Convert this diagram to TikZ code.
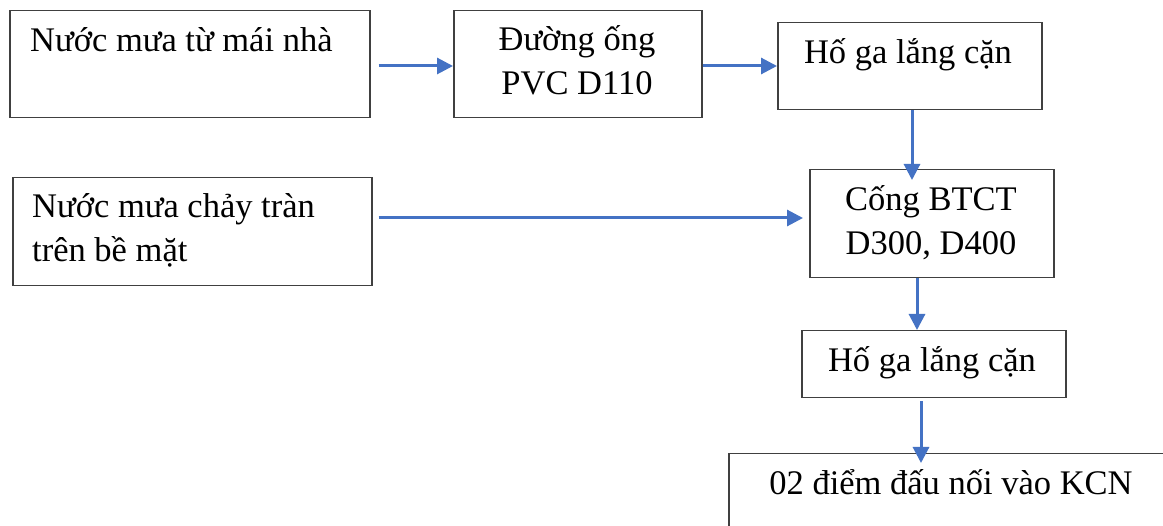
\documentclass[tikz,border=0pt]{standalone}
\usepackage{fontspec}
\setmainfont{Liberation Serif}
\usetikzlibrary{arrows.meta}
\definecolor{arrblue}{HTML}{4472C4}
\begin{document}
\begin{tikzpicture}[x=1pt,y=-1pt,
  box/.style={draw=black!75, line width=1.5pt, inner sep=0pt, anchor=north west},
  txt/.style={font=\fontsize{34.5}{44}\selectfont, inner sep=0pt},
  arr/.style={draw=arrblue, line width=3pt, -{Triangle[length=16pt,width=16pt]}}]
\clip (0,0) rectangle (1163,526);
\fill[white] (0,0) rectangle (1163,526);
% boxes
\node[box, minimum width=360pt, minimum height=107pt] (b1) at (9,10) {};
\node[box, minimum width=248pt, minimum height=107pt] (b2) at (453,10) {};
\node[box, minimum width=264pt, minimum height=87pt] (b3) at (777,22) {};
\node[box, minimum width=359pt, minimum height=108pt] (b4) at (12,177) {};
\node[box, minimum width=244pt, minimum height=108pt] (b5) at (809,169) {};
\node[box, minimum width=264pt, minimum height=67pt] (b6) at (801,330) {};
\node[box, minimum width=480pt, minimum height=120pt] (b7) at (728,453) {};
% texts
\node[txt, anchor=base west] (t1) at (30,52) {Nước mưa từ mái nhà};
\node[txt, anchor=base, align=center] (t2) at (577,95) {Đường ống\\PVC D110};
\node[txt, anchor=base] (t3) at (908,64) {Hố ga lắng cặn};
\node[txt, anchor=base west, align=left] (t4) at (32,262) {Nước mưa chảy tràn\\trên bề mặt};
\node[txt, anchor=base, align=center] (t5) at (931,255) {Cống BTCT\\D300, D400};
\node[txt, anchor=base] (t6) at (932,372) {Hố ga lắng cặn};
\node[txt, anchor=base] (t7) at (951,495) {02 điểm đấu nối vào KCN};
% arrows
\draw[arr, shorten <=8pt] (b1.east |- 0,66) -- (b2.west |- 0,66);
\draw[arr] (b2.east |- 0,66) -- (b3.west |- 0,66);
\draw[arr, shorten >=-11pt] (b3.south -| 912,0) -- (b5.north -| 912,0);
\draw[arr, shorten <=6pt, shorten >=6pt] (b4.east |- 0,218) -- (b5.west |- 0,218);
\draw[arr] (b5.south -| 917,0) -- (b6.north -| 917,0);
\draw[arr, shorten <=3pt, shorten >=-10pt] (b6.south -| 921,0) -- (b7.north -| 921,0);
\end{tikzpicture}
\end{document}
